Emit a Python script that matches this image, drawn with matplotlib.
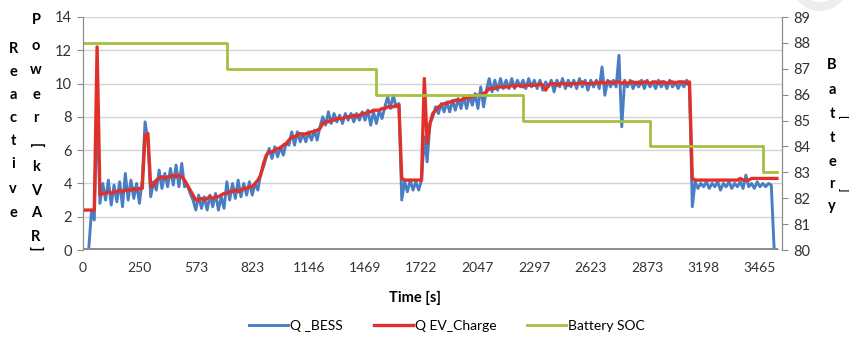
import numpy as np
import matplotlib.pyplot as plt
from matplotlib.patches import Wedge

# one sample every 1/20 of a category step; labels are the elapsed time at each step
time_labels = ['0', '250', '573', '823', '1146', '1469', '1722',
               '2047', '2297', '2623', '2873', '3198', '3465']
samples_per_label = 20

q_bess = [
    0.0, 0.0, 0.0, 2.3, 1.8, 9.0, 2.8, 4.0, 3.0, 4.2, 2.7, 3.9, 2.9, 4.1, 2.6, 4.6, 3.0, 4.2, 3.1, 4.0,
    2.8, 4.2, 7.7, 6.6, 3.2, 4.1, 3.6, 4.8, 3.7, 4.6, 3.8, 4.9, 3.9, 5.1, 3.8, 5.2, 3.8, 3.9, 3.4, 3.0,
    2.4, 3.3, 2.5, 3.2, 2.4, 3.3, 2.6, 3.4, 2.4, 3.2, 2.5, 4.1, 3.0, 4.0, 3.1, 4.2, 3.2, 4.0, 3.3, 4.1,
    3.3, 4.0, 3.6, 4.6, 5.0, 5.6, 6.1, 5.5, 6.2, 5.6, 6.2, 5.7, 6.4, 6.3, 7.1, 6.3, 7.1, 6.5, 7.0, 6.5,
    7.1, 6.6, 7.2, 6.6, 7.4, 8.0, 7.5, 8.3, 7.6, 8.2, 7.7, 8.1, 7.6, 8.2, 7.8, 8.2, 7.7, 8.2, 7.8, 8.3,
    7.8, 8.4, 7.5, 8.3, 7.6, 8.4, 7.9, 8.6, 9.2, 8.5, 9.3, 8.6, 8.8, 3.0, 4.1, 3.5, 4.2, 3.6, 4.1, 3.6,
    4.2, 6.8, 5.3, 7.6, 8.0, 8.6, 8.2, 8.8, 8.3, 8.9, 8.3, 9.0, 8.4, 9.1, 8.5, 9.2, 8.5, 9.3, 8.7, 9.4,
    8.5, 9.8, 8.6, 9.6, 10.3, 9.5, 10.2, 9.6, 10.3, 9.7, 10.2, 9.7, 10.3, 9.7, 10.2, 9.8, 10.2, 9.7, 10.3, 9.8,
    10.2, 9.7, 10.2, 9.6, 10.1, 9.8, 10.2, 9.5, 10.2, 9.8, 10.3, 9.7, 10.2, 9.8, 10.2, 9.7, 10.3, 9.8, 10.2, 9.6,
    10.2, 9.8, 10.2, 9.7, 11.0, 9.3, 10.2, 9.8, 10.2, 9.8, 11.7, 7.4, 10.2, 9.8, 10.2, 9.7, 10.1, 9.8, 10.2, 9.7,
    10.2, 9.8, 10.1, 9.7, 10.2, 9.8, 10.1, 9.7, 10.2, 9.8, 10.1, 9.7, 10.1, 9.8, 10.2, 9.8, 2.6, 4.1, 3.7, 4.0,
    3.8, 4.1, 3.7, 4.0, 3.8, 4.1, 3.6, 4.0, 3.8, 4.1, 3.7, 4.0, 3.8, 4.1, 3.7, 4.5, 3.8, 4.0, 3.7, 4.1,
    3.8, 4.0, 3.8, 4.0, 3.9, 0.1, 0.0,
]

q_ev_charge = [
    2.4, 2.4, 2.4, 2.4, 2.4, 12.2, 3.3, 3.4, 3.4, 3.5, 3.4, 3.5, 3.5, 3.6, 3.5, 3.6, 3.6, 3.6, 3.7, 3.6,
    3.7, 3.7, 6.9, 7.0, 3.8, 3.9, 4.2, 4.3, 4.4, 4.3, 4.4, 4.4, 4.5, 4.4, 4.5, 4.4, 4.2, 3.9, 3.6, 3.3,
    3.0, 3.0, 3.1, 3.0, 3.1, 3.2, 3.1, 3.2, 3.2, 3.3, 3.4, 3.4, 3.5, 3.5, 3.6, 3.5, 3.6, 3.7, 3.7, 3.8,
    3.8, 4.0, 4.2, 4.5, 5.2, 5.7, 5.9, 5.9, 6.0, 6.1, 6.1, 6.3, 6.4, 6.6, 6.8, 6.8, 6.9, 7.0, 6.9, 7.0,
    7.0, 7.1, 7.1, 7.2, 7.3, 7.6, 7.7, 7.7, 7.8, 7.8, 7.9, 7.9, 7.9, 8.0, 8.0, 8.0, 8.1, 8.0, 8.1, 8.2,
    8.2, 8.3, 8.3, 8.4, 8.4, 8.4, 8.5, 8.5, 8.6, 8.6, 8.6, 8.7, 8.7, 4.3, 4.2, 4.2, 4.2, 4.2, 4.2, 4.2,
    4.2, 10.3, 6.4, 7.6, 8.2, 8.4, 8.6, 8.7, 8.8, 8.8, 8.9, 8.9, 9.0, 9.0, 9.0, 9.1, 9.1, 9.2, 9.2, 9.3,
    9.3, 9.3, 9.4, 9.5, 9.7, 9.7, 9.7, 9.8, 9.8, 9.8, 9.8, 9.8, 9.9, 9.8, 9.9, 9.9, 9.8, 9.9, 9.9, 9.9,
    9.9, 9.9, 10.0, 9.9, 9.6, 9.9, 10.0, 10.0, 9.9, 10.0, 10.0, 10.0, 9.9, 10.0, 10.0, 10.0, 10.0, 10.1, 10.0, 10.0,
    10.0, 10.0, 10.1, 10.0, 10.1, 10.0, 10.1, 10.1, 10.0, 10.1, 10.1, 10.0, 10.1, 10.0, 10.1, 10.1, 10.0, 10.1, 10.0, 10.1,
    10.1, 10.0, 10.1, 10.1, 10.0, 10.1, 10.1, 10.0, 10.1, 10.1, 10.0, 10.1, 10.1, 10.1, 10.0, 10.1, 4.3, 4.2, 4.2, 4.2,
    4.2, 4.2, 4.2, 4.2, 4.2, 4.2, 4.2, 4.2, 4.2, 4.2, 4.2, 4.2, 4.2, 4.3, 4.2, 4.2, 4.2, 4.3, 4.3, 4.3,
    4.3, 4.3, 4.3, 4.3, 4.3, 4.3, 4.3,
]

# battery state of charge: sample where each level starts, and the level
soc_start = [0, 51, 104, 156, 201, 241, 246]
soc_level = [88, 87, 86, 85, 84, 83, 83]

BLUE = '#4a7ec4'
RED = '#e0302a'
GREEN = '#a2c13f'
GREY = '#8c8c8c'
FONT = 'Lato'

plt.rcParams['font.family'] = [FONT, 'DejaVu Sans']

fig = plt.figure(figsize=(8.49, 3.4), dpi=100)

# faint ring in the top right corner (display pixels)
fig.patches.append(Wedge((820, 357), 28, 180, 360, width=9, transform=None,
                         facecolor='#ededed', edgecolor='none'))

ax = fig.add_axes([83 / 849, 1 - 250 / 340, (782 - 83) / 849, (250 - 17) / 340])
ax2 = ax.twinx()

idx = np.arange(len(q_bess))
l1, = ax.plot(idx, q_bess, color=BLUE, lw=2.1, label='Q _BESS', zorder=3)
l2, = ax.plot(np.arange(len(q_ev_charge)), q_ev_charge, color=RED, lw=2.4,
              label='Q EV_Charge', zorder=4)
l3, = ax2.plot(soc_start, soc_level, color=GREEN, lw=2.0, drawstyle='steps-post',
               label='Battery SOC')

ax.set_xlim(0, 12.39 * samples_per_label)
ax.set_xticks(np.arange(len(time_labels)) * samples_per_label)
ax.set_xticklabels(time_labels)
ax.set_ylim(0, 14)
ax.set_yticks(range(0, 15, 2))
ax2.set_ylim(80, 89)
ax2.set_yticks(range(80, 90))

ax.grid(axis='y', color='#d4d4d4', lw=1.0)
ax.set_axisbelow(True)
for a in (ax, ax2):
    a.spines['top'].set_visible(False)
    a.spines['left'].set_color(GREY)
    a.spines['right'].set_color(GREY)
    a.spines['bottom'].set_visible(False)
ax.axhline(0, color='#8a8a8a', lw=3.5, zorder=5, xmax=0.99)

ax.tick_params(axis='y', length=4, color=GREY, labelsize=10.5, labelcolor='#333333', pad=4)
ax.tick_params(axis='x', length=0, labelsize=10, labelcolor='#333333', pad=9)
ax2.tick_params(axis='y', length=4, color=GREY, labelsize=10.5, labelcolor='#333333', pad=4)

fig.text(415 / 849, 1 - 298 / 340, 'Time [s]', fontsize=10.5, fontweight='bold',
         ha='center', va='center')

# stacked vertical axis titles
def stack(chars, x, ys, size=10.5):
    for ch, y in zip(chars, ys):
        rot = -90 if ch in '[]' else 0
        fig.text(x / 849, 1 - y / 340, ch, fontsize=size, fontweight='bold',
                 ha='center', va='center', rotation=rot)

stack('Reactive', 13, [49, 72, 95, 118, 141, 164, 189, 213])
stack('Power[kVAR]', 36, [20, 46, 70, 95, 118, 145, 167, 191, 213, 237, 248])
stack('Battery', 832, [65, 90, 114, 138, 162, 184, 206])
stack('[]', 843, [117, 190], size=8)

fig.legend(handles=[l1, l2, l3], loc='center', bbox_to_anchor=(447 / 849, 1 - 326 / 340),
           ncol=3, frameon=False, fontsize=10, handlelength=2.8, handletextpad=0.15,
           columnspacing=2.2)

fig.savefig('out.png', dpi=100)
